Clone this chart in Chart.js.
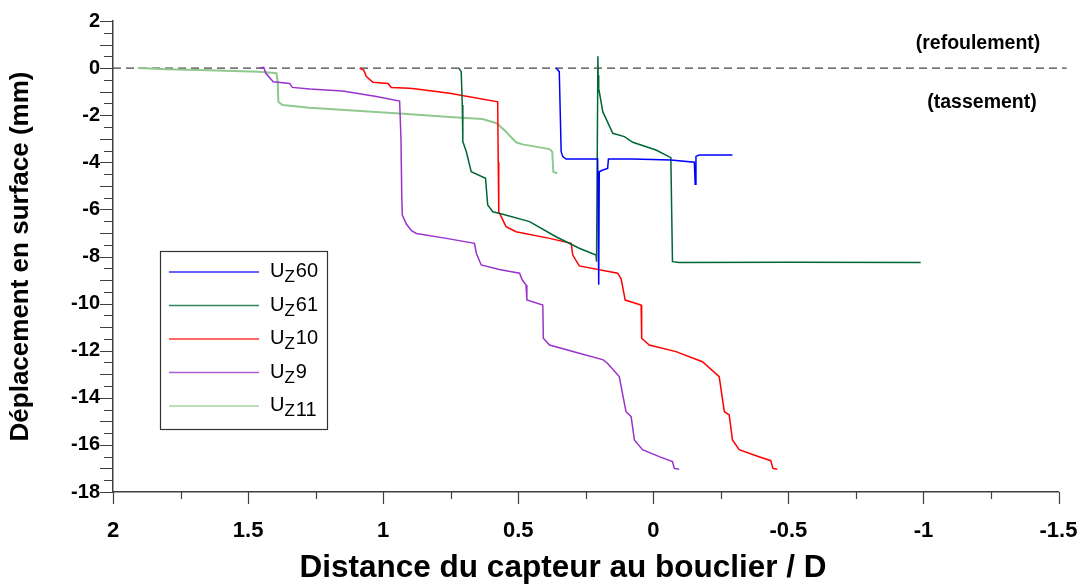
<!DOCTYPE html>
<html>
<head>
<meta charset="utf-8">
<script src="https://cdn.jsdelivr.net/npm/chart.js@4.4.1/dist/chart.umd.min.js"></script>
<style>
  html, body { margin: 0; padding: 0; background: #fff; }
  #wrap { width: 1088px; height: 588px; }
</style>
</head>
<body>
<div id="wrap"><canvas id="chart" width="1088" height="588"></canvas></div>
<script>
// series: [distance / D, displacement mm]
const uz60 = [[0.360,0],[0.348,-0.15],[0.341,-3.55],[0.335,-3.76],[0.323,-3.86],[0.206,-3.86],[0.202,-9.2],[0.200,-4.4],[0.187,-4.33],[0.169,-4.26],[0.166,-3.86],[0.076,-3.86],[-0.065,-3.9],[-0.152,-4.0],[-0.155,-4.93],[-0.158,-3.75],[-0.170,-3.69],[-0.293,-3.69]];
const uz61 = [[0.720,0],[0.711,-0.15],[0.707,-1.57],[0.705,-3.12],[0.692,-3.55],[0.674,-4.4],[0.621,-4.68],[0.613,-5.81],[0.594,-6.1],[0.557,-6.21],[0.458,-6.52],[0.360,-7.16],[0.274,-7.65],[0.212,-7.94],[0.210,-8.22],[0.205,0.5],[0.204,-0.3],[0.202,-0.86],[0.187,-1.85],[0.150,-2.77],[0.107,-2.91],[0.076,-3.15],[-0.010,-3.48],[-0.065,-3.8],[-0.071,-8.22],[-0.096,-8.25],[-0.5,-8.24],[-0.990,-8.25]];
const uz10 = [[1.087,0],[1.072,-0.08],[1.062,-0.36],[1.038,-0.6],[0.982,-0.65],[0.970,-0.82],[0.902,-0.86],[0.877,-0.89],[0.754,-1.07],[0.576,-1.43],[0.574,-4],[0.572,-6.1],[0.563,-6.31],[0.545,-6.73],[0.508,-6.95],[0.384,-7.23],[0.304,-7.44],[0.298,-7.94],[0.274,-8.4],[0.132,-8.71],[0.119,-8.95],[0.104,-9.85],[0.045,-10.06],[0.043,-11.47],[0.015,-11.76],[-0.084,-12.04],[-0.182,-12.47],[-0.244,-13.1],[-0.263,-14.59],[-0.281,-14.73],[-0.293,-15.79],[-0.318,-16.2],[-0.391,-16.5],[-0.435,-16.67],[-0.443,-17.0],[-0.459,-17.03]];
const uz9 = [[1.457,0],[1.442,0.03],[1.434,-0.22],[1.407,-0.58],[1.346,-0.65],[1.336,-0.82],[1.272,-0.89],[1.15,-0.97],[1.025,-1.21],[0.939,-1.4],[0.934,-3],[0.931,-5.5],[0.929,-6.24],[0.914,-6.62],[0.895,-6.9],[0.877,-7.02],[0.766,-7.23],[0.662,-7.44],[0.655,-7.86],[0.637,-8.36],[0.57,-8.55],[0.495,-8.71],[0.485,-9.0],[0.471,-9.21],[0.468,-9.85],[0.409,-10.06],[0.407,-11.47],[0.384,-11.76],[0.274,-12.11],[0.185,-12.39],[0.169,-12.54],[0.126,-13.1],[0.101,-14.59],[0.082,-14.8],[0.070,-15.79],[0.040,-16.2],[-0.022,-16.5],[-0.071,-16.71],[-0.078,-17.0],[-0.096,-17.03]];
const uz11 = [[1.908,0],[1.80,-0.05],[1.65,-0.09],[1.457,-0.15],[1.395,-0.22],[1.39,-0.6],[1.388,-1.43],[1.372,-1.57],[1.272,-1.68],[1.113,-1.8],[0.939,-1.93],[0.754,-2.08],[0.632,-2.16],[0.58,-2.34],[0.55,-2.65],[0.508,-3.15],[0.484,-3.24],[0.384,-3.44],[0.374,-3.55],[0.37,-4.4],[0.355,-4.47]];
const zeroLine = [[2,0],[-1.53,0]];

const seriesNames = ['Uz60', 'Uz61', 'Uz10', 'Uz9', 'Uz11'];
const seriesData = [uz60, uz61, uz10, uz9, uz11];
const seriesColors = ['#0000ff', '#006633', '#ff0000', '#9933cc', '#8fc98f'];

const xTitle = 'Distance du capteur au bouclier / D';
const yTitle = 'Déplacement en surface (mm)';
const notes = [
  { text: '(refoulement)', x: 978, y: 44 },
  { text: '(tassement)', x: 982, y: 103 }
];

const FONT = "'Liberation Sans', Arial, sans-serif";
const axisColor = '#404040';

const toPoints = arr => arr.map(p => ({ x: p[0], y: p[1] }));
const isStep = (v, s) => Math.abs(v / s - Math.round(v / s)) < 1e-6;

const datasets = seriesData.map((d, i) => ({
  label: seriesNames[i],
  data: toPoints(d),
  borderColor: seriesColors[i],
  borderWidth: i === 4 ? 2 : 1.5,
  showLine: true,
  pointRadius: 0,
  tension: 0
}));
datasets.push({
  label: 'zero',
  data: toPoints(zeroLine),
  borderColor: '#444',
  borderWidth: 1.2,
  borderDash: [8, 5],
  showLine: true,
  pointRadius: 0,
  clip: false
});

// tick marks, longer on labelled values
const tickMarks = {
  id: 'tickMarks',
  afterDraw(chart) {
    const { ctx, scales: { x, y } } = chart;
    ctx.save();
    ctx.strokeStyle = axisColor;
    ctx.lineWidth = 1.2;
    ctx.beginPath();
    x.ticks.forEach(t => {
      const p = Math.round(x.getPixelForValue(t.value)) + 0.5;
      const len = isStep(t.value, 0.5) ? 12 : 7;
      ctx.moveTo(p, x.top);
      ctx.lineTo(p, x.top + len);
    });
    y.ticks.forEach(t => {
      const p = Math.round(y.getPixelForValue(t.value)) + 0.5;
      const len = isStep(t.value, 1) ? 13 : 9;
      ctx.moveTo(y.right, p);
      ctx.lineTo(y.right - len, p);
    });
    ctx.stroke();
    ctx.restore();
  }
};

// notes, x title and boxed legend with subscript Z
const extras = {
  id: 'extras',
  afterDraw(chart) {
    const ctx = chart.ctx;
    ctx.save();
    ctx.fillStyle = '#000';
    ctx.font = 'bold 19.5px ' + FONT;
    ctx.textAlign = 'center';
    ctx.textBaseline = 'middle';
    notes.forEach(n => ctx.fillText(n.text, n.x, n.y));

    ctx.font = 'bold 31.5px ' + FONT;
    ctx.fillText(xTitle, 563, 568);

    ctx.strokeStyle = '#333';
    ctx.lineWidth = 1.2;
    ctx.strokeRect(160.5, 251.5, 167, 178);
    ctx.textAlign = 'left';
    ctx.textBaseline = 'alphabetic';
    seriesNames.forEach((name, i) => {
      const yy = 272 + i * 33.5;
      ctx.globalAlpha = 0.8;
      ctx.strokeStyle = seriesColors[i];
      ctx.lineWidth = 1.5;
      ctx.beginPath();
      ctx.moveTo(169, yy);
      ctx.lineTo(259, yy);
      ctx.stroke();
      ctx.globalAlpha = 1;
      let tx = 270;
      const base = yy + 5;
      ctx.font = '20px ' + FONT;
      ctx.fillText('U', tx, base);
      tx += ctx.measureText('U').width;
      ctx.font = '17px ' + FONT;
      ctx.fillText('Z', tx, base + 5);
      tx += ctx.measureText('Z').width + 1;
      ctx.font = '20px ' + FONT;
      const rest = name.slice(2);
      ctx.fillText(rest, tx, name === 'Uz11' ? base + 5 : base);
    });
    ctx.restore();
  }
};

new Chart(document.getElementById('chart').getContext('2d'), {
  type: 'scatter',
  data: { datasets },
  options: {
    responsive: false,
    animation: false,
    devicePixelRatio: 1,
    layout: { padding: { top: 21, right: 29.5, left: 0, bottom: 0 } },
    plugins: {
      legend: { display: false },
      tooltip: { enabled: false }
    },
    scales: {
      x: {
        type: 'linear',
        reverse: true,
        min: -1.5,
        max: 2,
        afterFit: s => { s.height = 96; s.paddingLeft = 0; s.paddingRight = 0; },
        border: { display: true, color: axisColor, width: 1.5 },
        grid: { display: false, drawTicks: false },
        ticks: {
          stepSize: 0.25,
          autoSkip: false,
          maxRotation: 0,
          padding: 26,
          color: '#000',
          font: { family: FONT, size: 22, weight: 'bold' },
          callback: v => isStep(v, 0.5) ? String(v) : ''
        }
      },
      y: {
        type: 'linear',
        min: -18,
        max: 2,
        afterFit: s => { s.width = 113; s.paddingTop = 0; s.paddingBottom = 0; },
        border: { display: true, color: axisColor, width: 1.5 },
        grid: { display: false, drawTicks: false },
        ticks: {
          stepSize: 0.5,
          autoSkip: false,
          padding: 13,
          color: '#000',
          font: { family: FONT, size: 20, weight: 'bold' },
          callback: v => isStep(v, 2) ? String(v) : ''
        },
        title: {
          display: true,
          text: yTitle,
          color: '#000',
          font: { family: FONT, size: 26, weight: 'bold' },
          padding: { top: 5, bottom: 0 }
        }
      }
    }
  },
  plugins: [tickMarks, extras]
});
</script>
</body>
</html>
